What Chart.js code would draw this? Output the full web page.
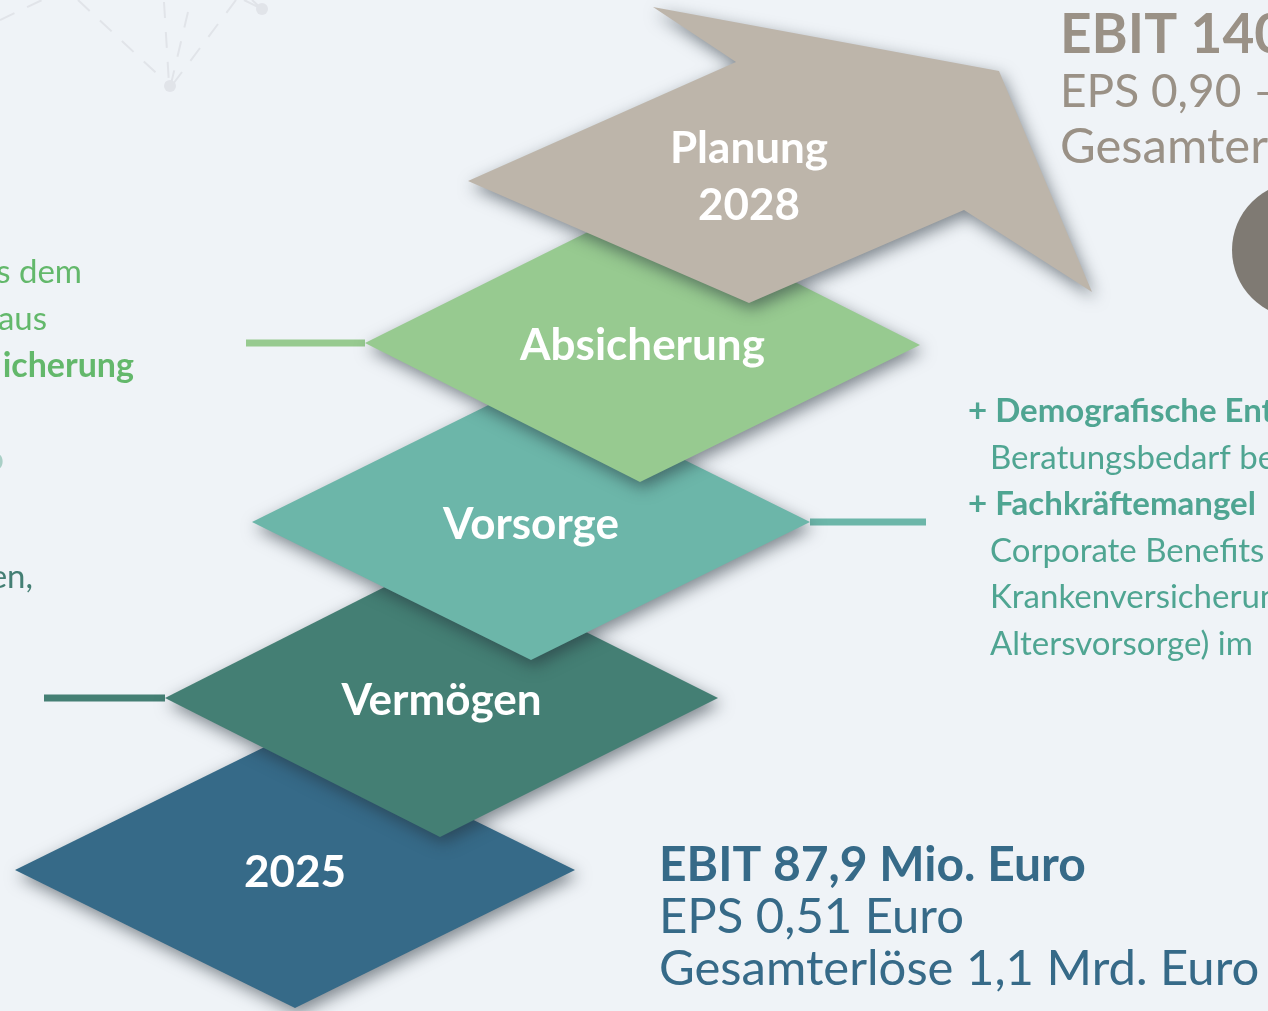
<!DOCTYPE html>
<html lang="de">
<head>
<meta charset="utf-8">
<title>Strategie 2028</title>
<script src="https://cdn.jsdelivr.net/npm/chart.js@4.4.1/dist/chart.umd.min.js"></script>
<style>
  html, body { margin: 0; padding: 0; background: #eff3f7; overflow: hidden; }
  #wrap { width: 1268px; height: 1011px; }
</style>
</head>
<body>
<div id="wrap"><canvas id="steps" width="1268" height="1011"></canvas></div>
<script>
// Stufen von unten nach oben
const stepLabels = ['2025', 'Vermögen', 'Vorsorge', 'Absicherung', 'Planung 2028'];
const stepColors = ['#366a88', '#447f74', '#6cb6a9', '#97ca90', '#bdb5aa'];

// Rauten: links, oben, rechts, unten
const stepX = [
  [15, 295, 575, 295],
  [165, 440, 718, 440],
  [252, 531, 810, 531],
  [365, 642, 920, 640]
];
const stepY = [
  [870, 732, 870, 1008],
  [698, 559, 698, 837],
  [522, 384, 522, 660],
  [343, 205, 345, 482]
];

// Pfeil "Planung 2028"
const arrowX = [468, 736, 653, 999, 1092, 964, 749];
const arrowY = [181, 62, 7, 71, 292, 210, 303];

// Verbindungslinien (Vermögen, Vorsorge, Absicherung)
const linkX = [[44, 165], [810, 926], [246, 365]];
const linkY = [698, 522, 343];
const linkColors = ['#447f74', '#6cb6a9', '#97ca90'];

// Texte
const kpi2025 = ['EBIT 87,9 Mio. Euro', 'EPS 0,51 Euro', 'Gesamterlöse 1,1 Mrd. Euro'];
const kpi2028 = ['EBIT 140', 'EPS 0,90 –', 'Gesamterlöse'];
const driversRight = ['+ Demografische Entwicklung', 'Beratungsbedarf bei', '+ Fachkräftemangel',
  'Corporate Benefits', 'Krankenversicherung', 'Altersvorsorge) im'];
const driversLeft = ['s dem', 'aus', 'icherung'];
const driversLeftLower = ['o', 'en,'];

// Hintergrund-Netz (oben links)
const netX = [0, 42, null, 78, 168, null, 164, 169, null, 188, 171, null, 236, 173, null, 244, 262, null, 252, 262];
const netY = [20, 0, null, 0, 84, null, 2, 84, null, 12, 84, null, 0, 84, null, 0, 9, null, 0, 9];
const netDotX = [170, 262];
const netDotY = [86, 9];

function toPoints(xs, ys) {
  return xs.map((v, i) => ({ x: v, y: ys[i] }));
}

function closed(xs, ys) {
  const pts = toPoints(xs, ys);
  pts.push({ x: xs[0], y: ys[0] });
  return pts;
}

function setShadow(ctx, on) {
  ctx.shadowColor = on ? 'rgba(35, 45, 55, 0.55)' : 'rgba(0,0,0,0)';
  ctx.shadowBlur = on ? 16 : 0;
  ctx.shadowOffsetX = on ? 3 : 0;
  ctx.shadowOffsetY = on ? 6 : 0;
}

const datasets = [];

// Netz + Kreis + Linien ohne Schatten zuerst
datasets.push({
  data: toPoints(netX, netY),
  borderColor: '#e1e4e9', borderWidth: 2, borderDash: [16, 14],
  pointRadius: 0, fill: false, spanGaps: false, order: 20, noShadow: true
});
datasets.push({
  data: toPoints(netDotX, netDotY),
  showLine: false, pointRadius: 6, pointBackgroundColor: '#e1e4e9', pointBorderWidth: 0,
  order: 19, noShadow: true
});
datasets.push({
  data: [{ x: 1300, y: 250 }],
  showLine: false, pointRadius: 68, pointBackgroundColor: '#7f7a73', pointBorderWidth: 0,
  order: 18, noShadow: true
});
linkX.forEach((xs, i) => {
  datasets.push({
    data: toPoints(xs, [linkY[i], linkY[i]]),
    borderColor: linkColors[i], borderWidth: 7, borderCapStyle: 'butt',
    pointRadius: 0, fill: false, order: 10 + i, noShadow: true
  });
});

// Rauten (2025 ganz unten, Absicherung oben)
stepX.forEach((xs, i) => {
  datasets.push({
    label: stepLabels[i],
    data: closed(xs, stepY[i]),
    backgroundColor: stepColors[i], borderWidth: 0,
    pointRadius: 0, tension: 0, fill: 'shape', order: 5 - i
  });
});
datasets.push({
  label: stepLabels[4],
  data: closed(arrowX, arrowY),
  backgroundColor: stepColors[4], borderWidth: 0,
  pointRadius: 0, tension: 0, fill: 'shape', order: 0
});

const stepPlugin = {
  id: 'stepPlugin',
  beforeDraw(chart) {
    const { ctx } = chart;
    ctx.save();
    ctx.fillStyle = '#eff3f7';
    ctx.fillRect(0, 0, chart.width, chart.height);
    ctx.restore();
  },
  beforeDatasetsDraw(chart) {
    setShadow(chart.ctx, false);
  },
  beforeDatasetDraw(chart, args) {
    if (chart.data.datasets[args.index].noShadow) setShadow(chart.ctx, false);
  },
  afterDatasetDraw(chart) {
    setShadow(chart.ctx, true);
  },
  afterDatasetsDraw(chart) {
    const { ctx, scales: { x, y } } = chart;
    setShadow(ctx, false);
    ctx.save();
    ctx.textBaseline = 'alphabetic';

    // Beschriftung der Stufen
    ctx.fillStyle = '#ffffff';
    ctx.textAlign = 'center';
    ctx.font = 'bold 44px Lato';
    stepX.forEach((xs, i) => {
      const cx = (xs[0] + xs[2]) / 2;
      ctx.fillText(stepLabels[i], x.getPixelForValue(cx), y.getPixelForValue(stepY[i][0] + 17));
    });
    const planLines = stepLabels[4].split(' ');
    ctx.fillText(planLines[0], x.getPixelForValue(arrowX[6]), y.getPixelForValue(163));
    ctx.fillText(planLines[1], x.getPixelForValue(arrowX[6]), y.getPixelForValue(220));

    // Kennzahlen 2025
    ctx.textAlign = 'left';
    ctx.fillStyle = '#366a88';
    kpi2025.forEach((t, i) => {
      ctx.font = (i === 0 ? 'bold 48px' : '49px') + ' Lato';
      ctx.fillText(t, x.getPixelForValue(659), y.getPixelForValue(881 + i * 52));
    });

    // Kennzahlen 2028
    ctx.fillStyle = '#9a9186';
    const topBase = [53, 107, 163];
    const topSize = ['bold 55px', '46px', '49px'];
    kpi2028.forEach((t, i) => {
      ctx.font = topSize[i] + ' Lato';
      ctx.fillText(t, x.getPixelForValue(1060), y.getPixelForValue(topBase[i]));
    });

    // Treiber rechts
    ctx.fillStyle = '#4fa592';
    driversRight.forEach((t, i) => {
      const head = t.startsWith('+');
      ctx.font = (head ? 'bold ' : '') + '33px Lato';
      ctx.fillText(t, x.getPixelForValue(head ? 968 : 990), y.getPixelForValue(422 + i * 46.6));
    });

    // Treiber links (abgeschnitten)
    ctx.textAlign = 'right';
    ctx.fillStyle = '#63b86b';
    const leftEnd = [82, 47, 134];
    driversLeft.forEach((t, i) => {
      ctx.font = (i === 2 ? 'bold 34px' : '33px') + ' Lato';
      ctx.fillText(t, x.getPixelForValue(leftEnd[i]), y.getPixelForValue(283 + i * 47));
    });
    ctx.font = '33px Lato';
    ctx.fillStyle = '#a9cfc6';
    ctx.fillText(driversLeftLower[0], x.getPixelForValue(4), y.getPixelForValue(470));
    ctx.fillStyle = '#447f74';
    ctx.fillText(driversLeftLower[1], x.getPixelForValue(33), y.getPixelForValue(588));
    ctx.restore();
  }
};

function drawChart() {
  new Chart(document.getElementById('steps'), {
    type: 'line',
    data: { datasets },
    options: {
      responsive: false,
      animation: false,
      events: [],
      layout: { padding: 0, autoPadding: false },
      scales: {
        x: { type: 'linear', min: 0, max: 1268, display: false },
        y: { type: 'linear', min: 0, max: 1011, reverse: true, display: false }
      },
      plugins: {
        legend: { display: false },
        tooltip: { enabled: false }
      }
    },
    plugins: [stepPlugin]
  });
}

Promise.all([
  document.fonts.load('bold 42px Lato'),
  document.fonts.load('42px Lato')
]).then(drawChart, drawChart);
</script>
</body>
</html>
